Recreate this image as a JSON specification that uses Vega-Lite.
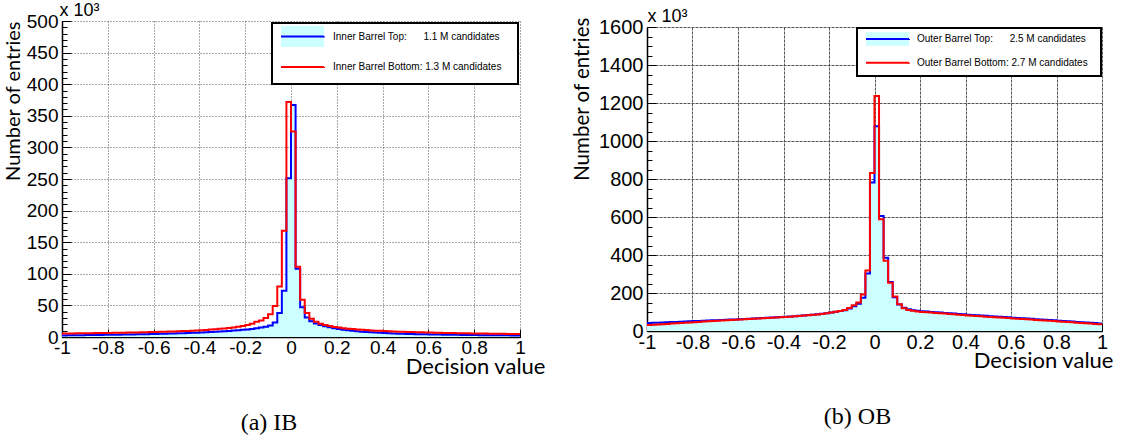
{
  "$schema": "https://vega.github.io/schema/vega-lite/v6.json",
  "background": "white",
  "padding": {"left": 3, "top": 1, "right": 4, "bottom": 4},
  "config": {"view": {"stroke": null}, "font": "Liberation Sans"},
  "datasets": {
    "ib": [
      {"x": -1, "t": 2.5, "b": 5.5}, {"x": -0.98, "t": 2.6, "b": 5.6}, {"x": -0.96, "t": 2.7, "b": 5.7}, {"x": -0.94, "t": 2.8, "b": 5.8},
      {"x": -0.92, "t": 2.9, "b": 5.9}, {"x": -0.9, "t": 3.0, "b": 6.0}, {"x": -0.88, "t": 3.1, "b": 6.1}, {"x": -0.86, "t": 3.2, "b": 6.2},
      {"x": -0.84, "t": 3.3, "b": 6.3}, {"x": -0.82, "t": 3.4, "b": 6.4}, {"x": -0.8, "t": 3.5, "b": 6.5}, {"x": -0.78, "t": 3.6, "b": 6.6},
      {"x": -0.76, "t": 3.7, "b": 6.8}, {"x": -0.74, "t": 3.8, "b": 6.9}, {"x": -0.72, "t": 3.9, "b": 7.0}, {"x": -0.7, "t": 4.0, "b": 7.2},
      {"x": -0.68, "t": 4.2, "b": 7.3}, {"x": -0.66, "t": 4.3, "b": 7.5}, {"x": -0.64, "t": 4.4, "b": 7.6}, {"x": -0.62, "t": 4.6, "b": 7.8},
      {"x": -0.6, "t": 4.8, "b": 8.0}, {"x": -0.58, "t": 5.0, "b": 8.2}, {"x": -0.56, "t": 5.2, "b": 8.4}, {"x": -0.54, "t": 5.4, "b": 8.6},
      {"x": -0.52, "t": 5.6, "b": 8.8}, {"x": -0.5, "t": 5.8, "b": 9.0}, {"x": -0.48, "t": 6.0, "b": 9.3}, {"x": -0.46, "t": 6.3, "b": 9.6},
      {"x": -0.44, "t": 6.6, "b": 9.9}, {"x": -0.42, "t": 6.9, "b": 10.2}, {"x": -0.4, "t": 7.2, "b": 10.6}, {"x": -0.38, "t": 7.5, "b": 11.1},
      {"x": -0.36, "t": 7.9, "b": 11.7}, {"x": -0.34, "t": 8.3, "b": 12.3}, {"x": -0.32, "t": 8.7, "b": 12.9}, {"x": -0.3, "t": 9.1, "b": 13.6},
      {"x": -0.28, "t": 9.6, "b": 14.4}, {"x": -0.26, "t": 10.1, "b": 15.2}, {"x": -0.24, "t": 10.7, "b": 16.2}, {"x": -0.22, "t": 11.3, "b": 17.5},
      {"x": -0.2, "t": 12.0, "b": 19}, {"x": -0.18, "t": 12.8, "b": 21}, {"x": -0.16, "t": 13.7, "b": 24}, {"x": -0.14, "t": 15.0, "b": 26},
      {"x": -0.12, "t": 16.3, "b": 30}, {"x": -0.1, "t": 18, "b": 36}, {"x": -0.08, "t": 23, "b": 49}, {"x": -0.06, "t": 38, "b": 80},
      {"x": -0.04, "t": 73, "b": 168}, {"x": -0.02, "t": 251, "b": 372}, {"x": 0, "t": 367, "b": 325}, {"x": 0.02, "t": 108, "b": 111},
      {"x": 0.04, "t": 47, "b": 59}, {"x": 0.06, "t": 31, "b": 38}, {"x": 0.08, "t": 25, "b": 29}, {"x": 0.1, "t": 21.5, "b": 24},
      {"x": 0.12, "t": 19, "b": 21}, {"x": 0.14, "t": 17, "b": 19}, {"x": 0.16, "t": 15.3, "b": 17.5}, {"x": 0.18, "t": 13.8, "b": 16},
      {"x": 0.2, "t": 12.5, "b": 15}, {"x": 0.22, "t": 11.4, "b": 14}, {"x": 0.24, "t": 10.5, "b": 13.2}, {"x": 0.26, "t": 9.7, "b": 12.5},
      {"x": 0.28, "t": 9.0, "b": 11.9}, {"x": 0.3, "t": 8.4, "b": 11.4}, {"x": 0.32, "t": 7.9, "b": 10.9}, {"x": 0.34, "t": 7.4, "b": 10.4},
      {"x": 0.36, "t": 7.0, "b": 10.0}, {"x": 0.38, "t": 6.6, "b": 9.7}, {"x": 0.4, "t": 6.2, "b": 9.4}, {"x": 0.42, "t": 5.9, "b": 9.1},
      {"x": 0.44, "t": 5.6, "b": 8.8}, {"x": 0.46, "t": 5.3, "b": 8.5}, {"x": 0.48, "t": 5.1, "b": 8.2}, {"x": 0.5, "t": 4.9, "b": 8.0},
      {"x": 0.52, "t": 4.7, "b": 7.8}, {"x": 0.54, "t": 4.5, "b": 7.6}, {"x": 0.56, "t": 4.3, "b": 7.4}, {"x": 0.58, "t": 4.2, "b": 7.2},
      {"x": 0.6, "t": 4.0, "b": 7.0}, {"x": 0.62, "t": 3.9, "b": 6.8}, {"x": 0.64, "t": 3.8, "b": 6.7}, {"x": 0.66, "t": 3.7, "b": 6.5},
      {"x": 0.68, "t": 3.6, "b": 6.4}, {"x": 0.7, "t": 3.5, "b": 6.2}, {"x": 0.72, "t": 3.4, "b": 6.1}, {"x": 0.74, "t": 3.3, "b": 6.0},
      {"x": 0.76, "t": 3.2, "b": 5.8}, {"x": 0.78, "t": 3.1, "b": 5.7}, {"x": 0.8, "t": 3.0, "b": 5.6}, {"x": 0.82, "t": 2.95, "b": 5.5},
      {"x": 0.84, "t": 2.9, "b": 5.4}, {"x": 0.86, "t": 2.85, "b": 5.3}, {"x": 0.88, "t": 2.8, "b": 5.2}, {"x": 0.9, "t": 2.7, "b": 5.1},
      {"x": 0.92, "t": 2.65, "b": 5.0}, {"x": 0.94, "t": 2.6, "b": 4.9}, {"x": 0.96, "t": 2.5, "b": 4.8}, {"x": 0.98, "t": 2.4, "b": 4.7},
      {"x": 1, "t": 2.4, "b": 4.7}
    ],
    "ob": [
      {"x": -1, "t": 42, "b": 32}, {"x": -0.98, "t": 43, "b": 33}, {"x": -0.96, "t": 44, "b": 34.5}, {"x": -0.94, "t": 45, "b": 36},
      {"x": -0.92, "t": 46, "b": 37.5}, {"x": -0.9, "t": 47, "b": 39}, {"x": -0.88, "t": 48, "b": 40.5}, {"x": -0.86, "t": 49, "b": 42},
      {"x": -0.84, "t": 50, "b": 43.5}, {"x": -0.82, "t": 51, "b": 45}, {"x": -0.8, "t": 52, "b": 46.5}, {"x": -0.78, "t": 53, "b": 48},
      {"x": -0.76, "t": 54, "b": 49.5}, {"x": -0.74, "t": 55, "b": 51}, {"x": -0.72, "t": 56, "b": 52}, {"x": -0.7, "t": 57, "b": 53.5},
      {"x": -0.68, "t": 58, "b": 55}, {"x": -0.66, "t": 59, "b": 56}, {"x": -0.64, "t": 60, "b": 57.5}, {"x": -0.62, "t": 61, "b": 59},
      {"x": -0.6, "t": 62, "b": 60}, {"x": -0.58, "t": 63, "b": 61.5}, {"x": -0.56, "t": 64.5, "b": 63}, {"x": -0.54, "t": 65.5, "b": 64},
      {"x": -0.52, "t": 67, "b": 65.5}, {"x": -0.5, "t": 68, "b": 67}, {"x": -0.48, "t": 69.5, "b": 68.5}, {"x": -0.46, "t": 71, "b": 70},
      {"x": -0.44, "t": 72, "b": 71}, {"x": -0.42, "t": 73.5, "b": 72.5}, {"x": -0.4, "t": 75, "b": 74}, {"x": -0.38, "t": 76.5, "b": 75.5},
      {"x": -0.36, "t": 78, "b": 77}, {"x": -0.34, "t": 80, "b": 79}, {"x": -0.32, "t": 82, "b": 81}, {"x": -0.3, "t": 84, "b": 83},
      {"x": -0.28, "t": 86, "b": 85}, {"x": -0.26, "t": 88, "b": 87.5}, {"x": -0.24, "t": 91, "b": 90}, {"x": -0.22, "t": 94, "b": 93},
      {"x": -0.2, "t": 97, "b": 97}, {"x": -0.18, "t": 101, "b": 101}, {"x": -0.16, "t": 105, "b": 105}, {"x": -0.14, "t": 109, "b": 110},
      {"x": -0.12, "t": 118, "b": 121}, {"x": -0.1, "t": 130, "b": 136}, {"x": -0.08, "t": 143, "b": 150}, {"x": -0.06, "t": 175, "b": 192},
      {"x": -0.04, "t": 303, "b": 319}, {"x": -0.02, "t": 782, "b": 832}, {"x": 0, "t": 1078, "b": 1237}, {"x": 0.02, "t": 605, "b": 588},
      {"x": 0.04, "t": 385, "b": 370}, {"x": 0.06, "t": 258, "b": 254}, {"x": 0.08, "t": 178, "b": 181}, {"x": 0.1, "t": 140, "b": 141},
      {"x": 0.12, "t": 122, "b": 120}, {"x": 0.14, "t": 114, "b": 111}, {"x": 0.16, "t": 109, "b": 106}, {"x": 0.18, "t": 106, "b": 103},
      {"x": 0.2, "t": 104, "b": 100}, {"x": 0.22, "t": 102, "b": 98.5}, {"x": 0.24, "t": 100, "b": 97}, {"x": 0.26, "t": 98.5, "b": 95},
      {"x": 0.28, "t": 97, "b": 93.5}, {"x": 0.3, "t": 95, "b": 92}, {"x": 0.32, "t": 93.5, "b": 90}, {"x": 0.34, "t": 92, "b": 88},
      {"x": 0.36, "t": 90, "b": 86}, {"x": 0.38, "t": 88, "b": 84}, {"x": 0.4, "t": 86, "b": 82}, {"x": 0.42, "t": 84.5, "b": 80.5},
      {"x": 0.44, "t": 83, "b": 79}, {"x": 0.46, "t": 81.5, "b": 77}, {"x": 0.48, "t": 80, "b": 75.5}, {"x": 0.5, "t": 78, "b": 74},
      {"x": 0.52, "t": 76.5, "b": 72.5}, {"x": 0.54, "t": 75, "b": 71}, {"x": 0.56, "t": 73.5, "b": 69.5}, {"x": 0.58, "t": 72, "b": 68},
      {"x": 0.6, "t": 70, "b": 66}, {"x": 0.62, "t": 68.5, "b": 64.5}, {"x": 0.64, "t": 67, "b": 63}, {"x": 0.66, "t": 65.5, "b": 61.5},
      {"x": 0.68, "t": 64, "b": 60}, {"x": 0.7, "t": 62, "b": 58}, {"x": 0.72, "t": 60.5, "b": 56.5}, {"x": 0.74, "t": 59, "b": 55},
      {"x": 0.76, "t": 57.5, "b": 53.5}, {"x": 0.78, "t": 56, "b": 52}, {"x": 0.8, "t": 54, "b": 50}, {"x": 0.82, "t": 52.5, "b": 48.5},
      {"x": 0.84, "t": 51, "b": 47}, {"x": 0.86, "t": 49.5, "b": 45.5}, {"x": 0.88, "t": 48, "b": 44}, {"x": 0.9, "t": 46, "b": 42},
      {"x": 0.92, "t": 44.5, "b": 40.5}, {"x": 0.94, "t": 43, "b": 39}, {"x": 0.96, "t": 41.5, "b": 37.5}, {"x": 0.98, "t": 40, "b": 36},
      {"x": 1, "t": 40, "b": 36}
    ]
  },
  "hconcat": [
    {
      "width": 458,
      "height": 316,
      "data": {"name": "ib"},
      "title": {"text": "(a) IB", "orient": "bottom", "font": "Liberation Serif", "fontSize": 24, "fontWeight": "normal", "color": "black", "offset": 34, "dx": -22},
      "layer": [
        {
          "mark": {"type": "area", "interpolate": "step-after", "fill": "#ccffff"},
          "encoding": {
            "x": {"field": "x", "type": "quantitative", "scale": {"domain": [-1, 1], "nice": false, "zero": false},
              "axis": {"orient": "bottom", "tickCount": 40, "labels": false, "grid": false, "domain": false, "tickSize": -4, "tickColor": "black", "title": null}},
            "y": {"field": "t", "type": "quantitative", "scale": {"domain": [0, 500], "nice": false},
              "axis": {"orient": "left", "tickCount": 50, "labels": false, "grid": false, "domain": false, "tickSize": -5, "tickColor": "black",
                "title": "x 10³", "titleAngle": 0, "titleX": -3, "titleY": -2, "titleAlign": "left", "titleBaseline": "bottom",
                "titleFont": "Liberation Sans", "titleFontSize": 18, "titleFontWeight": "normal", "titleColor": "black"}}
          }
        },
        {
          "transform": [{"fold": ["t", "b"], "as": ["s", "v"]}],
          "mark": {"type": "line", "interpolate": "step-after", "strokeWidth": 2},
          "encoding": {
            "x": {"field": "x", "type": "quantitative",
              "axis": {"orient": "bottom", "values": [-1, -0.8, -0.6, -0.4, -0.2, 0, 0.2, 0.4, 0.6, 0.8, 1], "labelExpr": "'' + datum.value",
                "labelFont": "Liberation Sans", "labelFontSize": 19, "labelColor": "black", "labelPadding": 9, "labelFlush": false, "labelOverlap": false,
                "tickSize": -8, "tickColor": "black", "domainColor": "black", "domainWidth": 1.5,
                "grid": true, "gridColor": "#555", "gridDash": [1, 2],
                "title": "Decision value", "titleFont": "Lato", "titleFontSize": 22, "titleFontWeight": "normal", "titleColor": "black",
                "titleAnchor": "end", "titleAlign": "right", "titleX": 483, "titleY": 29, "titleBaseline": "middle"}},
            "y": {"field": "v", "type": "quantitative",
              "axis": {"orient": "left", "values": [0, 50, 100, 150, 200, 250, 300, 350, 400, 450, 500], "labelExpr": "'' + datum.value",
                "labelFont": "Liberation Sans", "labelFontSize": 19, "labelColor": "black", "labelPadding": 13, "labelOverlap": false,
                "tickSize": -9, "tickColor": "black", "domainColor": "black", "domainWidth": 1.5,
                "grid": true, "gridColor": "#555", "gridDash": [1, 2],
                "title": "Number of entries", "titleFont": "Lato", "titleFontSize": 20, "titleFontWeight": "normal", "titleColor": "black",
                "titleAnchor": "end", "titleY": 0, "titlePadding": 3}},
            "stroke": {"field": "s", "type": "nominal", "scale": {"domain": ["t", "b"], "range": ["#0000ff", "#ff0000"]},
              "legend": {"title": null, "orient": "top-right", "offset": 2, "strokeColor": "black", "fillColor": "white", "padding": 2,
                "labelFont": "Liberation Sans", "labelFontSize": 10, "labelColor": "black", "labelLimit": 400,
                "symbolType": "M-2.05,0H2.05V-1H-2.05V1H2.05V0Z", "symbolSize": 441, "symbolStrokeWidth": 2, "symbolDash": [43.1, 1000],
                "symbolOffset": 17, "labelOffset": 19, "rowPadding": 1.5,
                "labelExpr": "datum.value === 't' ? 'Inner Barrel Top:\u00a0\u00a0\u00a0\u00a0\u00a0\u00a01.1 M candidates\u00a0\u00a0\u00a0\u00a0\u00a0\u200b' : 'Inner Barrel Bottom: 1.3 M candidates\u00a0\u00a0\u00a0\u00a0\u00a0\u200b'",
                "encoding": {
                  "symbols": {"fill": {"value": {"expr": "datum.value === 't' ? '#ccffff' : 'transparent'"}}, "strokeDash": {"value": [43.1, 1000]}},
                  "legend": {"strokeWidth": {"value": 2}}
                }}}
          }
        }
      ],
      "resolve": {"axis": {"x": "independent", "y": "independent"}}
    },
    {
      "width": 455,
      "height": 304,
      "data": {"name": "ob"},
      "title": {"text": "(b) OB", "orient": "bottom", "font": "Liberation Serif", "fontSize": 24, "fontWeight": "normal", "color": "black", "offset": 34, "dx": -17},
      "layer": [
        {
          "mark": {"type": "area", "interpolate": "step-after", "fill": "#ccffff"},
          "encoding": {
            "x": {"field": "x", "type": "quantitative", "scale": {"domain": [-1, 1], "nice": false, "zero": false},
              "axis": {"orient": "bottom", "tickCount": 40, "labels": false, "grid": false, "domain": false, "tickSize": -4, "tickColor": "black", "title": null}},
            "y": {"field": "t", "type": "quantitative", "scale": {"domain": [0, 1600], "nice": false},
              "axis": {"orient": "left", "tickCount": 32, "labels": false, "grid": false, "domain": false, "tickSize": -5, "tickColor": "black",
                "title": "x 10³", "titleAngle": 0, "titleX": 0, "titleY": -2, "titleAlign": "left", "titleBaseline": "bottom",
                "titleFont": "Liberation Sans", "titleFontSize": 18, "titleFontWeight": "normal", "titleColor": "black"}}
          }
        },
        {
          "transform": [{"fold": ["t", "b"], "as": ["s", "v"]}],
          "mark": {"type": "line", "interpolate": "step-after", "strokeWidth": 2},
          "encoding": {
            "x": {"field": "x", "type": "quantitative",
              "axis": {"orient": "bottom", "values": [-1, -0.8, -0.6, -0.4, -0.2, 0, 0.2, 0.4, 0.6, 0.8, 1], "labelExpr": "'' + datum.value",
                "labelFont": "Liberation Sans", "labelFontSize": 20, "labelColor": "black", "labelPadding": 9, "labelFlush": false, "labelOverlap": false,
                "tickSize": -8, "tickColor": "black", "domainColor": "black", "domainWidth": 1.5,
                "grid": true, "gridColor": "#555", "gridDash": [3, 1],
                "title": "Decision value", "titleFont": "Lato", "titleFontSize": 22, "titleFontWeight": "normal", "titleColor": "black",
                "titleAnchor": "end", "titleAlign": "right", "titleX": 466, "titleY": 29, "titleBaseline": "middle"}},
            "y": {"field": "v", "type": "quantitative",
              "axis": {"orient": "left", "values": [0, 200, 400, 600, 800, 1000, 1200, 1400, 1600], "labelExpr": "'' + datum.value",
                "labelFont": "Liberation Sans", "labelFontSize": 20, "labelColor": "black", "labelPadding": 13, "labelOverlap": false,
                "tickSize": -9, "tickColor": "black", "domainColor": "black", "domainWidth": 1.5,
                "grid": true, "gridColor": "#555", "gridDash": [3, 1],
                "title": "Number of entries", "titleFont": "Lato", "titleFontSize": 20.5, "titleFontWeight": "normal", "titleColor": "black",
                "titleAnchor": "end", "titleY": -10, "titlePadding": 6}},
            "stroke": {"field": "s", "type": "nominal", "scale": {"domain": ["t", "b"], "range": ["#0000ff", "#ff0000"]},
              "legend": {"title": null, "orient": "top-right", "offset": 1, "strokeColor": "black", "fillColor": "white", "padding": 1.5,
                "labelFont": "Liberation Sans", "labelFontSize": 10, "labelColor": "black", "labelLimit": 400,
                "symbolType": "M-2.53,0H2.53V-0.8H-2.53V0.8H2.53V0Z", "symbolSize": 289, "symbolStrokeWidth": 2, "symbolDash": [43.1, 1000],
                "symbolOffset": 19.5, "labelOffset": 20, "rowPadding": 0.8,
                "labelExpr": "datum.value === 't' ? 'Outer Barrel Top:\u00a0\u00a0\u00a0\u00a0\u00a0\u00a02.5 M candidates\u00a0\u00a0\u00a0\u00a0\u200b' : 'Outer Barrel Bottom: 2.7 M candidates\u00a0\u00a0\u00a0\u00a0\u200b'",
                "encoding": {
                  "symbols": {"fill": {"value": {"expr": "datum.value === 't' ? '#ccffff' : 'transparent'"}}, "strokeDash": {"value": [43.1, 1000]}},
                  "legend": {"strokeWidth": {"value": 2}}
                }}}
          }
        }
      ],
      "resolve": {"axis": {"x": "independent", "y": "independent"}}
    }
  ],
  "resolve": {"scale": {"stroke": "independent"}, "legend": {"stroke": "independent"}},
  "spacing": 127,
  "bounds": "flush",
  "center": true
}
